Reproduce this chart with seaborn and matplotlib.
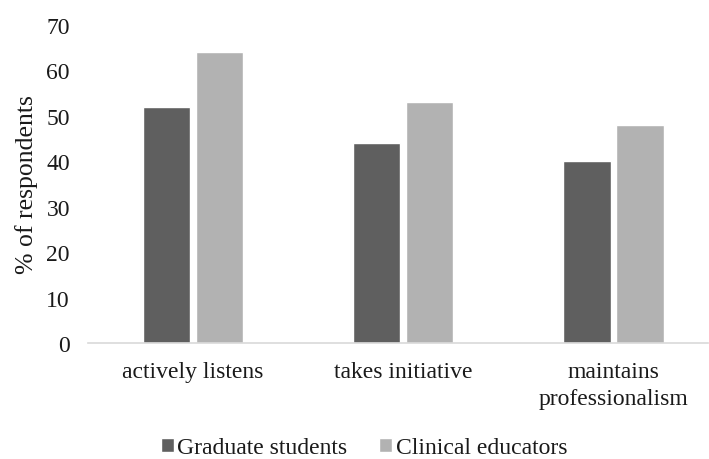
import matplotlib
matplotlib.use("Agg")
import matplotlib.pyplot as plt
import seaborn as sns
import pandas as pd

categories = ["actively listens", "takes initiative", "maintains\nprofessionalism"]
graduate_students = [52, 44, 40]
clinical_educators = [64, 53, 48]
series_names = ["Graduate students", "Clinical educators"]
yticks = [0, 10, 20, 30, 40, 50, 60, 70]

df = pd.DataFrame({
    "category": categories * 2,
    "value": graduate_students + clinical_educators,
    "series": [series_names[0]] * 3 + [series_names[1]] * 3,
})

sns.set_theme(style="white")
plt.rcParams["font.family"] = ["Liberation Serif", "DejaVu Serif"]

fig = plt.figure(figsize=(7.09, 4.6), dpi=100)
ax = fig.add_axes([88/709, 1 - 344/460, 620/709, (344 - 26)/460])

sns.barplot(data=df, x="category", y="value", hue="series", order=categories,
            hue_order=series_names, palette=["#5f5f5f", "#b2b2b2"],
            width=0.505, gap=0.11, ax=ax, legend=True, saturation=1)

ax.set_ylim(0, 70)
ax.set_xlim(-0.5, 2.45)
ax.set_yticks(yticks)
ax.set_yticklabels([str(v) for v in yticks], fontsize=17, color="#1a1a1a")
ax.set_xticks(range(len(categories)))
ax.set_xticklabels(categories, fontsize=17, color="#1a1a1a", linespacing=1.4)
ax.tick_params(axis="x", length=0, pad=13)
ax.tick_params(axis="y", length=0, pad=13)
ax.set_xlabel("")
ax.set_ylabel("% of respondents", fontsize=18.5, labelpad=6, color="#1a1a1a")
for s in ["top", "right", "left"]:
    ax.spines[s].set_visible(False)
ax.spines["bottom"].set_color("#d9d9d9")
ax.spines["bottom"].set_linewidth(1.2)

handles, labels = ax.get_legend_handles_labels()
ax.legend_.remove()
leg = fig.legend(handles, labels, loc="center", bbox_to_anchor=(364/709, 1 - 449/460),
                 ncol=2, frameon=False, fontsize=17, handlelength=0.55, handleheight=0.55,
                 handletextpad=0.15, columnspacing=1.35, borderpad=0, borderaxespad=0)
for t in leg.get_texts():
    t.set_color("#1a1a1a")

fig.savefig("out.png", dpi=100)
